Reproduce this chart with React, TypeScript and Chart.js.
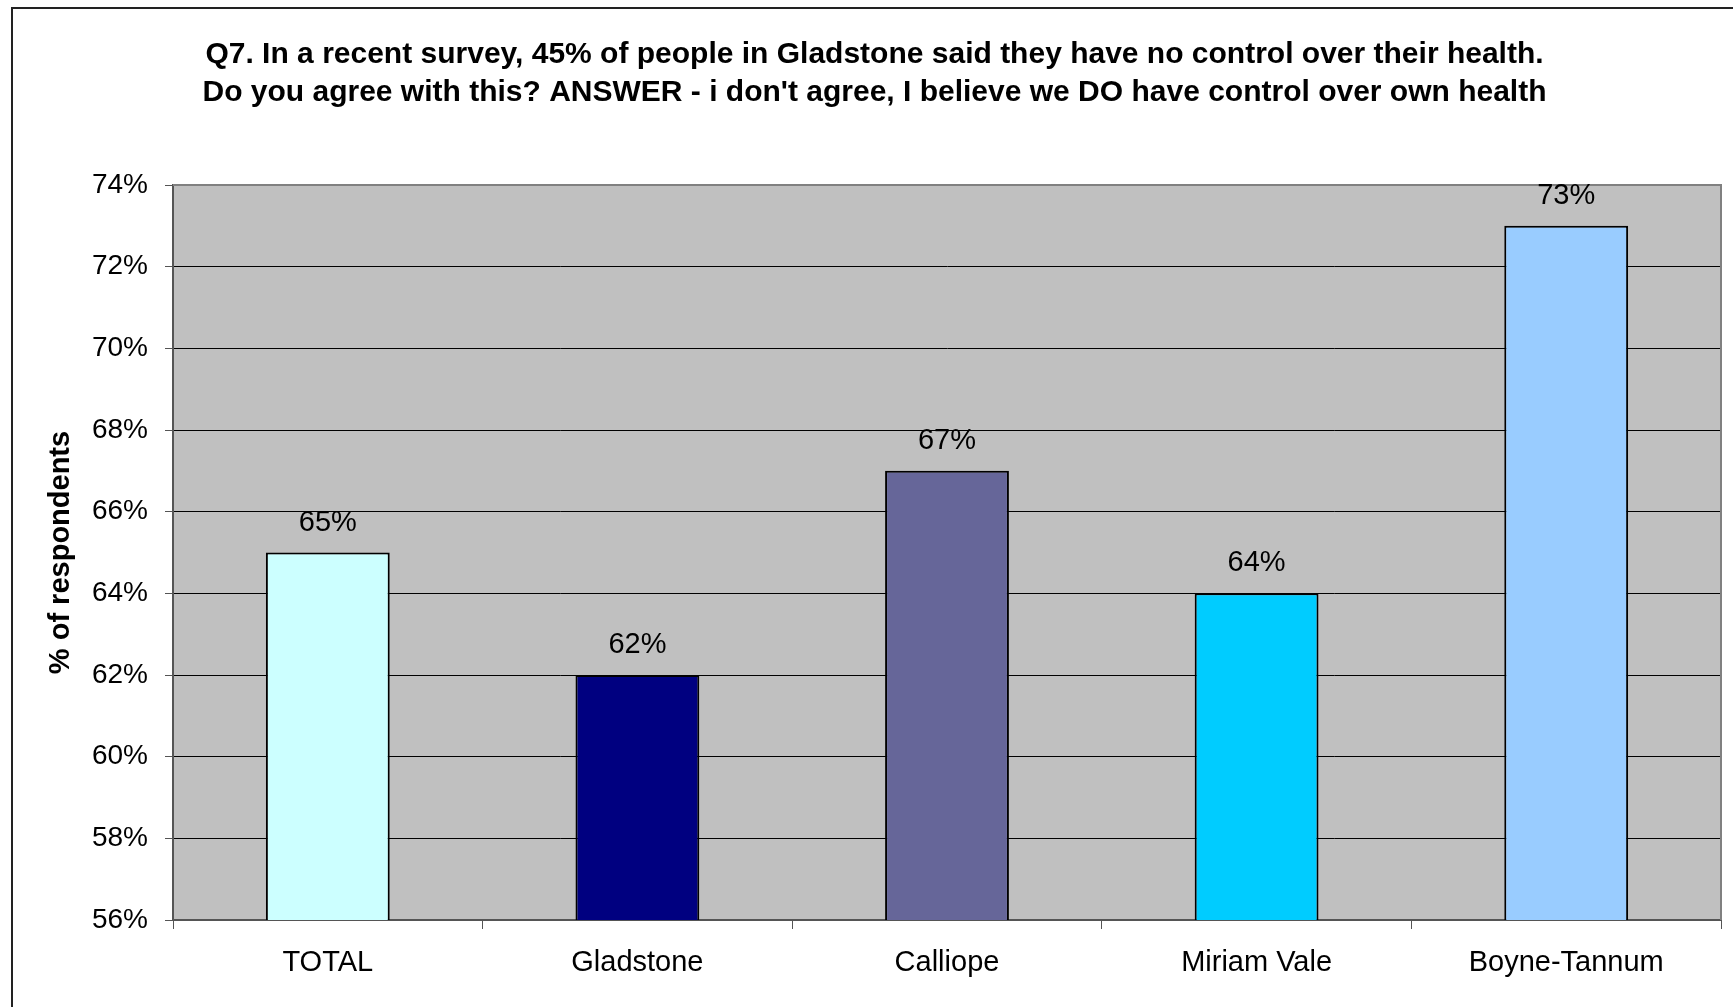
import React, { useEffect, useRef } from 'react';
import { Chart, registerables } from 'chart.js';

Chart.register(...registerables);

const categories = ['TOTAL', 'Gladstone', 'Calliope', 'Miriam Vale', 'Boyne-Tannum'];
const values = [65, 62, 67, 64, 73];
const barColors = ['#CCFFFF', '#000080', '#666699', '#00CCFF', '#99CCFF'];
const titleLines = [
  'Q7. In a recent survey, 45% of people in Gladstone said they have no control over their health.',
  "Do you agree with this? ANSWER - i don't agree, I believe we DO have control over own health",
];
const yAxisTitle = '% of respondents';
const yMin = 56;
const yMax = 74;
const yStep = 2;

const FONT = "'Liberation Sans', Arial, Helvetica, sans-serif";
const W = 1733;
const H = 1007;

const framePlugin = {
  id: 'framePlugin',
  beforeDraw(chart: any) {
    const { ctx, chartArea } = chart;
    ctx.save();
    ctx.fillStyle = '#FFFFFF';
    ctx.fillRect(0, 0, chart.width, chart.height);
    // outer chart border (left and top visible)
    ctx.strokeStyle = '#222222';
    ctx.lineWidth = 2;
    ctx.beginPath();
    ctx.moveTo(12, H);
    ctx.lineTo(12, 8);
    ctx.lineTo(W, 8);
    ctx.stroke();
    // plot area background
    ctx.fillStyle = '#C0C0C0';
    ctx.fillRect(chartArea.left, chartArea.top, chartArea.right - chartArea.left, chartArea.bottom - chartArea.top);
    ctx.restore();
  },
  beforeDatasetsDraw(chart: any) {
    const { ctx, chartArea } = chart;
    ctx.save();
    ctx.strokeStyle = '#808080';
    ctx.lineWidth = 2;
    ctx.beginPath();
    ctx.moveTo(chartArea.left, chartArea.top);
    ctx.lineTo(chartArea.right, chartArea.top);
    ctx.lineTo(chartArea.right, chartArea.bottom);
    ctx.stroke();
    ctx.restore();
  },
  afterDatasetsDraw(chart: any) {
    const { ctx } = chart;
    const meta = chart.getDatasetMeta(0);
    ctx.save();
    ctx.fillStyle = '#000000';
    ctx.font = `29px ${FONT}`;
    ctx.textAlign = 'center';
    ctx.textBaseline = 'middle';
    meta.data.forEach((bar: any, i: number) => {
      ctx.fillText(`${values[i]}%`, bar.x, bar.y - 30);
    });
    ctx.restore();
  },
};

export default function App() {
  const canvasRef = useRef<HTMLCanvasElement | null>(null);

  useEffect(() => {
    if (!canvasRef.current) return;
    const chart = new Chart(canvasRef.current, {
      type: 'bar',
      data: {
        labels: categories,
        datasets: [
          {
            data: values,
            backgroundColor: barColors,
            borderColor: '#000000',
            borderWidth: 2,
            barPercentage: 0.4,
            categoryPercentage: 1,
          },
        ],
      },
      options: {
        responsive: false,
        animation: false,
        devicePixelRatio: 1,
        layout: { padding: { left: 28, right: 12, top: 0, bottom: 0 } },
        plugins: {
          legend: { display: false },
          tooltip: { enabled: false },
          title: {
            display: true,
            text: titleLines,
            color: '#000000',
            font: { family: FONT, size: 30, weight: 'bold', lineHeight: 37.5 / 30 },
            padding: { top: 36, bottom: 74 },
          },
        },
        scales: {
          x: {
            grid: {
              display: true,
              drawOnChartArea: false,
              drawTicks: true,
              tickLength: 9,
              tickColor: '#555555',
              offset: true,
            },
            border: { display: true, color: '#555555', width: 2 },
            ticks: {
              color: '#000000',
              font: { family: FONT, size: 29 },
              padding: 17,
              maxRotation: 0,
              autoSkip: false,
            },
            afterFit(scale: any) {
              scale.height = 87;
            },
          },
          y: {
            min: yMin,
            max: yMax,
            grid: {
              color: '#000000',
              lineWidth: 1,
              drawTicks: true,
              tickLength: 8,
              tickColor: '#555555',
            },
            border: { display: true, color: '#555555', width: 2 },
            ticks: {
              stepSize: yStep,
              color: '#000000',
              font: { family: FONT, size: 28 },
              padding: 17,
              callback: (v: any) => `${v}%`,
            },
            title: {
              display: true,
              text: yAxisTitle,
              color: '#000000',
              font: { family: FONT, size: 29, weight: 'bold' },
              padding: { top: 16, bottom: 0 },
            },
            afterFit(scale: any) {
              scale.width = 145;
            },
          },
        },
      },
      plugins: [framePlugin],
    } as any);
    return () => chart.destroy();
  }, []);

  return (
    <div style={{ position: 'fixed', left: 0, top: 0, width: W, height: H, background: '#fff' }}>
      <canvas ref={canvasRef} width={W} height={H} style={{ display: 'block', width: W, height: H }} />
    </div>
  );
}
